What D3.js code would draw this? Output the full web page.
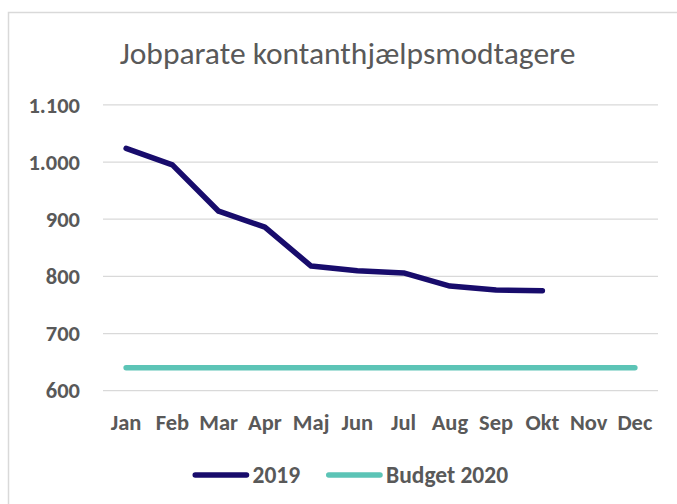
<!DOCTYPE html>
<html>
<head>
<meta charset="utf-8">
<script src="https://cdn.jsdelivr.net/npm/d3@7"></script>
<style>
  body { margin: 0; background: #fff; }
  text { font-family: Calibri, Carlito, Lato, "Open Sans", sans-serif; }
</style>
</head>
<body>
<div id="chart"></div>
<script>
// data
var months = ["Jan", "Feb", "Mar", "Apr", "Maj", "Jun", "Jul", "Aug", "Sep", "Okt", "Nov", "Dec"];
var values2019 = [1024, 995, 914, 886, 818, 810, 806, 783, 776, 775];
var budget2020 = [640, 640, 640, 640, 640, 640, 640, 640, 640, 640, 640, 640];
var yTicks = [600, 700, 800, 900, 1000, 1100];
var seriesNames = ["2019", "Budget 2020"];
var seriesColors = ["#180c6c", "#5cc4b6"];

var width = 677, height = 504;
var textColor = "#595959";
var labelSize = "22.5px";

var svg = d3.select("#chart").append("svg")
    .attr("width", width)
    .attr("height", height);

// chart border (only top and left visible in the crop)
svg.append("rect")
    .attr("x", 8.5)
    .attr("y", 12.5)
    .attr("width", 700)
    .attr("height", 600)
    .attr("fill", "#fff")
    .attr("stroke", "#d9d9d9")
    .attr("stroke-width", 1.5);

var x = d3.scaleBand().domain(months).range([103, 658]);
var y = d3.scaleLinear().domain([600, 1100]).range([390.7, 104.9]);

var fmt = function(d) { return d3.format(",")(d).replace(",", "."); };

// gridlines
svg.append("g")
    .selectAll("line")
    .data(yTicks)
    .join("line")
    .attr("x1", 103)
    .attr("x2", 658)
    .attr("y1", d => y(d))
    .attr("y2", d => y(d))
    .attr("stroke", "#d9d9d9")
    .attr("stroke-width", 1.3);

// y axis labels
var yAxis = svg.append("g")
    .attr("transform", "translate(80,0)")
    .call(d3.axisLeft(y).tickValues(yTicks).tickFormat(fmt).tickSize(0).tickPadding(0));
yAxis.select(".domain").remove();
yAxis.selectAll("text")
    .attr("fill", textColor)
    .attr("font-size", labelSize)
    .attr("font-weight", "bold")
    .style("font-family", "Calibri, Carlito, Lato, sans-serif");

// x axis labels
var xAxis = svg.append("g")
    .attr("transform", "translate(0,421.5)")
    .call(d3.axisBottom(x).tickSize(0).tickPadding(0));
xAxis.select(".domain").remove();
xAxis.selectAll("text")
    .attr("fill", textColor)
    .attr("font-size", labelSize)
    .attr("font-weight", "bold")
    .attr("dy", "0.36em")
    .style("font-family", "Calibri, Carlito, Lato, sans-serif");

// title
svg.append("text")
    .attr("x", 347.5)
    .attr("y", 64)
    .attr("text-anchor", "middle")
    .attr("font-size", "31.5px")
    .attr("font-weight", 300)
    .attr("fill", textColor)
    .text("Jobparate kontanthjælpsmodtagere");

var line = d3.line()
    .x((d, i) => x(months[i]) + x.bandwidth() / 2)
    .y(d => y(d));

svg.append("path")
    .datum(budget2020)
    .attr("fill", "none")
    .attr("stroke", seriesColors[1])
    .attr("stroke-width", 5.5)
    .attr("stroke-linecap", "round")
    .attr("stroke-linejoin", "round")
    .attr("d", line);

svg.append("path")
    .datum(values2019)
    .attr("fill", "none")
    .attr("stroke", seriesColors[0])
    .attr("stroke-width", 5.5)
    .attr("stroke-linecap", "round")
    .attr("stroke-linejoin", "round")
    .attr("d", line);

// legend
var legendPos = [192.5, 326];
var legend = svg.append("g");
seriesNames.forEach(function(name, i) {
    legend.append("line")
        .attr("x1", legendPos[i] + 2.75)
        .attr("x2", legendPos[i] + 54)
        .attr("y1", 475)
        .attr("y2", 475)
        .attr("stroke", seriesColors[i])
        .attr("stroke-width", 5.5)
        .attr("stroke-linecap", "round");
    legend.append("text")
        .attr("x", legendPos[i] + 60)
        .attr("y", 475)
        .attr("dy", "0.36em")
        .attr("font-size", "23.5px")
        .attr("font-weight", "bold")
        .attr("fill", textColor)
        .text(name);
});
</script>
</body>
</html>
